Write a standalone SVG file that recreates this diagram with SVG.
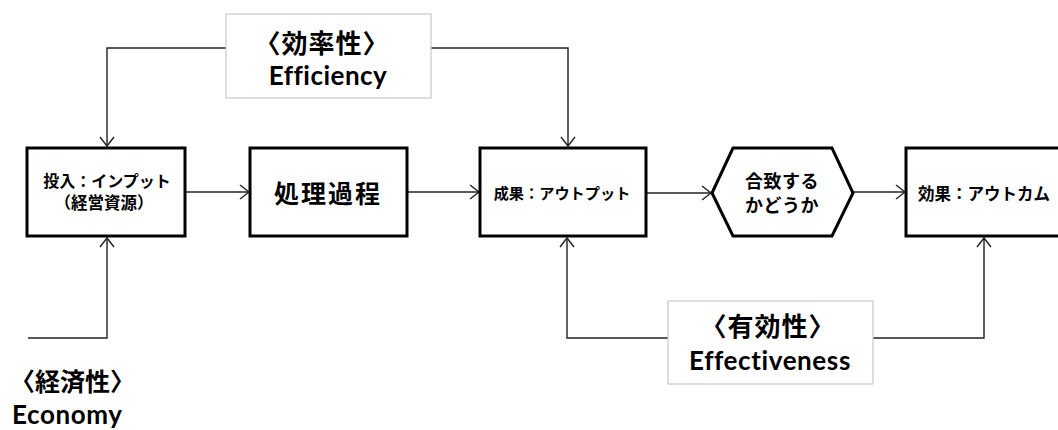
<svg xmlns="http://www.w3.org/2000/svg" width="1058" height="430" viewBox="0 0 1058 430">
<style>
.box{fill:#fff;stroke:#000;stroke-width:3;stroke-linejoin:miter}
.lbl{fill:#fff;stroke:#c8c8c8;stroke-width:1.2}
.con{fill:none;stroke:#222;stroke-width:1.4}
.jp{font-family:"Noto Sans CJK JP",sans-serif;font-weight:bold;fill:#000;text-anchor:middle}
.en{font-family:"Lato","Noto Sans",sans-serif;font-weight:bold;fill:#000;text-anchor:middle;font-variant-ligatures:none}
</style>
<defs>
<marker id="arr" markerUnits="userSpaceOnUse" markerWidth="12" markerHeight="16" refX="10" refY="8" orient="auto">
<path d="M1,1 L10,8 L1,15" fill="none" stroke="#222" stroke-width="1.4"/>
</marker>
</defs>
<g id="connectors">
<path class="con" d="M226,48 H107 V146" marker-end="url(#arr)"/>
<path class="con" d="M431,48 H568 V146" marker-end="url(#arr)"/>
<path class="con" d="M185,192 H249" marker-end="url(#arr)"/>
<path class="con" d="M407,192 H479" marker-end="url(#arr)"/>
<path class="con" d="M646,193 H711" marker-end="url(#arr)"/>
<path class="con" d="M853,192 H905" marker-end="url(#arr)"/>
<path class="con" d="M28,338 H107 V238" marker-end="url(#arr)"/>
<path class="con" d="M668,338 H567 V238" marker-end="url(#arr)"/>
<path class="con" d="M873,338 H984 V238" marker-end="url(#arr)"/>
</g>
<g id="efficiency">
<rect class="lbl" x="226" y="14" width="205" height="84"/>
<text class="jp" x="322" y="53" font-size="26" letter-spacing="1">〈効率性〉</text>
<text class="en" x="328" y="85" font-size="26" letter-spacing="0.5">Efficiency</text>
</g>
<g id="input">
<rect class="box" x="27" y="148" width="158" height="88"/>
<text class="jp" x="107" y="187" font-size="16">投入：インプット</text>
<text class="jp" x="104" y="209" font-size="16.5">（経営資源）</text>
</g>
<g id="process">
<rect class="box" x="250" y="148" width="157" height="88"/>
<text class="jp" x="328" y="203" font-size="25" letter-spacing="2">処理過程</text>
</g>
<g id="output">
<rect class="box" x="480" y="148" width="166" height="88"/>
<text class="jp" x="562" y="199" font-size="15.2">成果：アウトプット</text>
</g>
<g id="match">
<polygon class="box" points="712,193 733,148 832,148 853,193 832,236 733,236"/>
<text class="jp" x="782" y="188" font-size="18" letter-spacing="0.5">合致する</text>
<text class="jp" x="782" y="212" font-size="18" letter-spacing="0.5">かどうか</text>
</g>
<g id="outcome">
<rect class="box" x="906" y="148" width="160" height="88"/>
<text class="jp" x="918" y="200" font-size="16.5" style="text-anchor:start">効果：アウトカム</text>
</g>
<g id="effectiveness">
<rect class="lbl" x="668" y="301" width="205" height="83"/>
<text class="jp" x="768" y="336" font-size="26" letter-spacing="1">〈有効性〉</text>
<text class="en" x="770" y="370" font-size="26" letter-spacing="0.6">Effectiveness</text>
</g>
<g id="economy">
<text class="jp" x="10" y="391" font-size="25" style="text-anchor:start">〈経済性〉</text>
<text class="en" x="12" y="424" font-size="26" letter-spacing="0.6" style="text-anchor:start">Economy</text>
</g>
</svg>
